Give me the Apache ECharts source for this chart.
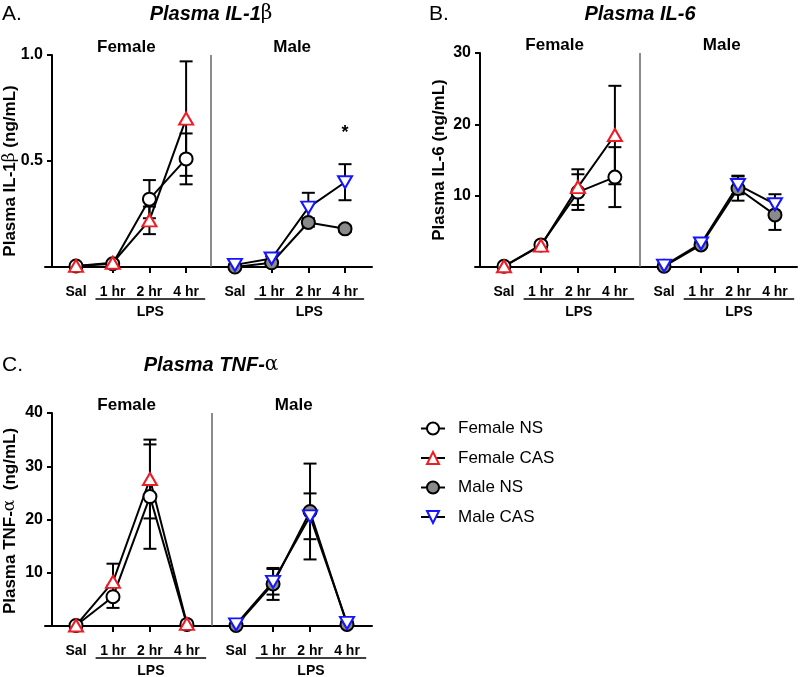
<!DOCTYPE html>
<html><head><meta charset="utf-8">
<script src="https://cdn.jsdelivr.net/npm/echarts@6/dist/echarts.min.js"></script>
<style>html,body{margin:0;padding:0;background:#fff}#c{width:800px;height:677px}</style>
</head><body><div id="c"></div>
<script>
// ---------- data ----------
const categories = ['Sal', '1 hr', '2 hr', '4 hr'];
const groupLabels = ['Female', 'Male'];
const seriesNames = ['Female NS', 'Female CAS', 'Male NS', 'Male CAS'];
const lpsLabel = 'LPS';

// Panel A: Plasma IL-1β (ng/mL)
const il1b_femaleNS = [0.005, 0.015, 0.32, 0.51];
const il1b_femaleNS_sem = [0.003, 0.005, 0.09, 0.12];
const il1b_femaleCAS = [0.005, 0.02, 0.22, 0.70];
const il1b_femaleCAS_sem = [0.003, 0.008, 0.065, 0.27];
const il1b_maleNS = [0.0, 0.02, 0.21, 0.18];
const il1b_maleNS_sem = [0.002, 0.006, 0.02, 0.015];
const il1b_maleCAS = [0.01, 0.04, 0.28, 0.40];
const il1b_maleCAS_sem = [0.003, 0.01, 0.07, 0.085];
const il1b_sigValue = 0.63; // "*" at Male 4 hr

// Panel B: Plasma IL-6 (ng/mL)
const il6_femaleNS = [0.1, 3.1, 10.5, 12.6];
const il6_femaleNS_sem = [0.1, 0.3, 2.5, 4.2];
const il6_femaleCAS = [0.1, 3.0, 11.2, 18.5];
const il6_femaleCAS_sem = [0.1, 0.3, 2.5, 6.9];
const il6_maleNS = [0.1, 3.1, 11.0, 7.3];
const il6_maleNS_sem = [0.1, 0.3, 1.7, 2.1];
const il6_maleCAS = [0.2, 3.3, 11.5, 8.8];
const il6_maleCAS_sem = [0.1, 0.3, 1.3, 1.4];

// Panel C: Plasma TNF-α (ng/mL)
const tnf_femaleNS = [0.1, 5.5, 24.3, 0.3];
const tnf_femaleNS_sem = [0.1, 2.1, 9.8, 0.2];
const tnf_femaleCAS = [0.1, 8.3, 27.6, 0.4];
const tnf_femaleCAS_sem = [0.1, 3.4, 7.4, 0.2];
const tnf_maleNS = [0.1, 7.9, 21.5, 0.3];
const tnf_maleNS_sem = [0.1, 3.0, 9.0, 0.2];
const tnf_maleCAS = [0.3, 8.3, 20.6, 0.6];
const tnf_maleCAS_sem = [0.1, 2.4, 4.3, 0.2];

// y-axis ticks
const il1bTicks = [0, 0.5, 1.0];
const il6Ticks = [0, 10, 20, 30];
const tnfTicks = [0, 10, 20, 30, 40];

// ---------- layout / style ----------
const FONT = "'Liberation Sans', Arial, Helvetica, sans-serif";
const GREEK = "'DejaVu Serif', 'Liberation Serif', serif";
const MALE_OFFSET = 4.33;      // gap between female and male blocks (in category units)
const DIVIDER = (3 + MALE_OFFSET) / 2;
const xPos = (g, i) => i + (g === 1 ? MALE_OFFSET : 0);

const styles = [
  {symbol: 'circle', size: 13, rotate: 0, fill: '#ffffff', border: '#000000'},
  {symbol: 'triangle', size: [14, 12], rotate: 0, fill: '#ffffff', border: '#ee1c24'},
  {symbol: 'circle', size: 13, rotate: 0, fill: '#8a8a8a', border: '#000000'},
  {symbol: 'triangle', size: [14, 12], rotate: 180, fill: '#ffffff', border: '#1515ff'}
];

const panels = [
  {letter: 'A.', letterPos: [2, 14], titleParts: ['Plasma IL-1', 'β', ''], titlePos: [211, 14],
   yName: ['Plasma IL-1', 'β', ' (ng/mL)'], yNamePos: [10, 171],
   grid: {left: 45, top: 55, width: 327, height: 212}, xMin: -0.845, xMax: 8.065, yOffset: -7,
   ticks: il1bTicks, dec: 1,
   means: [il1b_femaleNS, il1b_femaleCAS, il1b_maleNS, il1b_maleCAS],
   sems: [il1b_femaleNS_sem, il1b_femaleCAS_sem, il1b_maleNS_sem, il1b_maleCAS_sem],
   sig: {g: 1, i: 3, v: il1b_sigValue}},
  {letter: 'B.', letterPos: [429, 14], titleParts: ['Plasma IL-6', '', ''], titlePos: [640, 14],
   yName: ['Plasma IL-6 (ng/mL)', '', ''], yNamePos: [439, 160],
   grid: {left: 475, top: 53, width: 322, height: 214}, xMin: -0.784, xMax: 7.926, yOffset: -5,
   ticks: il6Ticks, dec: 0,
   means: [il6_femaleNS, il6_femaleCAS, il6_maleNS, il6_maleCAS],
   sems: [il6_femaleNS_sem, il6_femaleCAS_sem, il6_maleNS_sem, il6_maleCAS_sem]},
  {letter: 'C.', letterPos: [2, 365], titleParts: ['Plasma TNF-', 'α', ''], titlePos: [211, 365],
   yName: ['Plasma TNF-', 'α', '  (ng/mL)'], yNamePos: [10, 521],
   grid: {left: 45, top: 413, width: 327, height: 213}, xMin: -0.839, xMax: 8.006, yOffset: -7,
   ticks: tnfTicks, dec: 0,
   means: [tnf_femaleNS, tnf_femaleCAS, tnf_maleNS, tnf_maleCAS],
   sems: [tnf_femaleNS_sem, tnf_femaleCAS_sem, tnf_maleNS_sem, tnf_maleCAS_sem]}
];

const tickVals = [];
[0, 1].forEach(g => categories.forEach((c, i) => tickVals.push(xPos(g, i))));
function catLabel(v) {
  const g = v > DIVIDER ? 1 : 0;
  const i = Math.round(v - (g ? MALE_OFFSET : 0));
  return categories[i] || '';
}

function errRender(params, api) {
  const x = api.value(0), lo = api.value(1), hi = api.value(2);
  const a = api.coord([x, hi]), b = api.coord([x, lo]);
  const w = 6.5, st = {stroke: '#000', lineWidth: 2};
  return {type: 'group', children: [
    {type: 'line', shape: {x1: a[0], y1: a[1], x2: b[0], y2: b[1]}, style: st},
    {type: 'line', shape: {x1: a[0] - w, y1: a[1], x2: a[0] + w, y2: a[1]}, style: st},
    {type: 'line', shape: {x1: b[0] - w, y1: b[1], x2: b[0] + w, y2: b[1]}, style: st}
  ]};
}

const grids = [], xAxes = [], yAxes = [], series = [];
panels.forEach((p, k) => {
  grids.push(Object.assign({containLabel: false}, p.grid));
  xAxes.push({
    type: 'value', gridIndex: k, min: p.xMin, max: p.xMax,
    axisLine: {onZero: false, lineStyle: {color: '#000', width: 2}},
    splitLine: {show: false},
    axisTick: {show: true, customValues: tickVals, length: 6, lineStyle: {color: '#000', width: 2}},
    axisLabel: {customValues: tickVals, formatter: catLabel, margin: 18, fontSize: 14,
      fontWeight: 'bold', color: '#000', fontFamily: FONT}
  });
  const tk = p.ticks;
  yAxes.push({
    type: 'value', gridIndex: k, min: tk[0], max: tk[tk.length - 1], interval: tk[1] - tk[0],
    offset: p.yOffset,
    axisLine: {show: true, onZero: false, lineStyle: {color: '#000', width: 2}},
    axisTick: {show: true, length: 5, lineStyle: {color: '#000', width: 2}},
    splitLine: {show: false},
    axisLabel: {formatter: v => v === 0 ? '' : v.toFixed(p.dec), fontSize: 16, fontWeight: 'bold',
      color: '#000', margin: 9, fontFamily: FONT}
  });
  seriesNames.forEach((name, s) => {
    const g = s < 2 ? 0 : 1;
    const st = styles[s];
    const m = p.means[s], e = p.sems[s];
    series.push({
      name: name, type: 'line', xAxisIndex: k, yAxisIndex: k,
      data: m.map((v, i) => [xPos(g, i), v]),
      symbol: st.symbol, symbolSize: st.size, symbolRotate: st.rotate, showSymbol: true,
      clip: false, animation: false, emphasis: {disabled: true},
      lineStyle: {color: '#000', width: 2},
      itemStyle: {color: st.fill, borderColor: st.border, borderWidth: 2, opacity: 1},
      markLine: s === 0 ? {silent: true, symbol: 'none', label: {show: false}, animation: false,
        lineStyle: {color: '#666', width: 1.5, type: 'solid'}, data: [{xAxis: DIVIDER}]} : undefined
    });
    series.push({
      type: 'custom', xAxisIndex: k, yAxisIndex: k, renderItem: errRender, clip: false,
      animation: false, silent: true,
      encode: {x: 0, y: [1, 2]},
      data: m.map((v, i) => [xPos(g, i), v - e[i], v + e[i]])
    });
  });
});

const chart = echarts.init(document.getElementById('c'));
chart.setOption({
  animation: false,
  backgroundColor: '#fff',
  grid: grids, xAxis: xAxes, yAxis: yAxes, series: series,
  legend: {
    data: seriesNames, orient: 'vertical', left: 420, top: 420, padding: 0,
    itemWidth: 24, itemHeight: 15, itemGap: 12.5, selectedMode: false,
    textStyle: {fontSize: 17, fontFamily: FONT, color: '#000', padding: [0, 0, 0, 8]}
  }
});

// ---------- annotations placed through the axes ----------
const graphics = [];
const rich = (size, bold) => ({
  t: {fontSize: size, fontWeight: 'bold', fontStyle: bold ? 'italic' : 'normal', fontFamily: FONT, fill: '#000'},
  g: {fontSize: size, fontWeight: 'normal', fontStyle: 'normal', fontFamily: GREEK, fill: '#000'}
});
const richText = parts => parts.map((s, j) => s === '' ? '' : (j === 1 ? '{g|' + s + '}' : '{t|' + s + '}')).join('');
panels.forEach((p, k) => {
  const px = (x, y) => chart.convertToPixel({gridIndex: k}, [x, y]);
  graphics.push({type: 'text', x: p.letterPos[0], y: p.letterPos[1],
    style: {text: p.letter, fontSize: 21, fontFamily: FONT, fill: '#000', verticalAlign: 'middle', align: 'left'}});
  graphics.push({type: 'text', x: p.titlePos[0], y: p.titlePos[1],
    style: {text: richText(p.titleParts), rich: rich(20, true), align: 'center', verticalAlign: 'middle'}});
  graphics.push({type: 'text', x: p.yNamePos[0], y: p.yNamePos[1], rotation: Math.PI / 2,
    style: {text: richText(p.yName), rich: rich(17, false), align: 'center', verticalAlign: 'middle'}});
  const yTop = px(0, p.ticks[p.ticks.length - 1])[1];
  const yBot = px(0, 0)[1];
  const headerX = [1.37, 1.37 + 0.19 + MALE_OFFSET];
  groupLabels.forEach((lab, g) => {
    graphics.push({type: 'text', x: px(headerX[g], 0)[0], y: yTop - 8,
      style: {text: lab, fontSize: 17, fontWeight: 'bold', fontFamily: FONT, fill: '#000', align: 'center', verticalAlign: 'middle'}});
    const x1 = px(xPos(g, 0.53), 0)[0], x2 = px(xPos(g, 3.52), 0)[0];
    graphics.push({type: 'line', shape: {x1: x1, y1: yBot + 32, x2: x2, y2: yBot + 32},
      style: {stroke: '#000', lineWidth: 1.5}});
    graphics.push({type: 'text', x: (x1 + x2) / 2, y: yBot + 45,
      style: {text: lpsLabel, fontSize: 14, fontWeight: 'bold', fontFamily: FONT, fill: '#000', align: 'center', verticalAlign: 'middle'}});
  });
  if (p.sig) {
    const sp = px(xPos(p.sig.g, p.sig.i), p.sig.v);
    graphics.push({type: 'text', x: sp[0], y: sp[1],
      style: {text: '*', fontSize: 18, fontWeight: 'bold', fontFamily: FONT, fill: '#000', align: 'center', verticalAlign: 'middle'}});
  }
});
chart.setOption({graphic: graphics});
</script>
</body></html>
